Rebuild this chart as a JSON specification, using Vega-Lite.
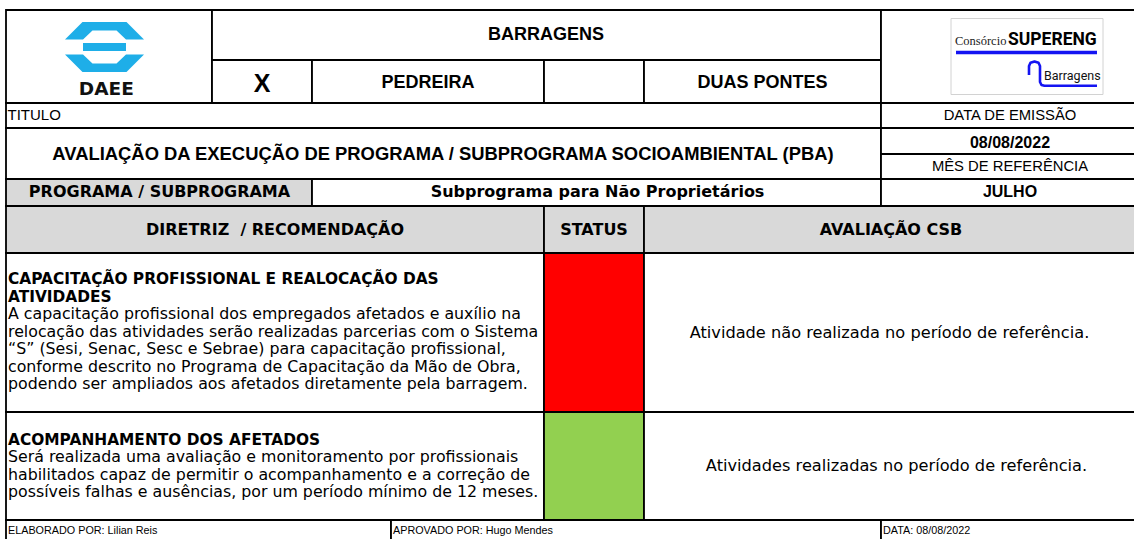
{
  "$schema": "https://vega.github.io/schema/vega-lite/v6.json",
  "width": 1134,
  "height": 539,
  "autosize": {"type": "none"},
  "padding": 0,
  "background": "#ffffff",
  "config": {"view": {"stroke": null}},
  "datasets": {
    "cells": [
      {"x": 6, "x2": 212, "y": 10, "y2": 103, "kind": "plain"},
      {"x": 212, "x2": 881, "y": 10, "y2": 60, "kind": "plain"},
      {"x": 212, "x2": 312, "y": 60, "y2": 103, "kind": "plain"},
      {"x": 312, "x2": 544, "y": 60, "y2": 103, "kind": "plain"},
      {"x": 544, "x2": 644, "y": 60, "y2": 103, "kind": "plain"},
      {"x": 644, "x2": 881, "y": 60, "y2": 103, "kind": "plain"},
      {"x": 881, "x2": 1140, "y": 10, "y2": 103, "kind": "plain"},
      {"x": 6, "x2": 881, "y": 103, "y2": 128, "kind": "plain"},
      {"x": 881, "x2": 1140, "y": 103, "y2": 128, "kind": "plain"},
      {"x": 6, "x2": 881, "y": 128, "y2": 179, "kind": "plain"},
      {"x": 881, "x2": 1140, "y": 128, "y2": 154, "kind": "plain"},
      {"x": 881, "x2": 1140, "y": 154, "y2": 179, "kind": "plain"},
      {"x": 6, "x2": 312, "y": 179, "y2": 206, "kind": "header"},
      {"x": 312, "x2": 881, "y": 179, "y2": 206, "kind": "plain"},
      {"x": 881, "x2": 1140, "y": 179, "y2": 206, "kind": "plain"},
      {"x": 6, "x2": 544, "y": 206, "y2": 253, "kind": "header"},
      {"x": 544, "x2": 644, "y": 206, "y2": 253, "kind": "header"},
      {"x": 644, "x2": 1140, "y": 206, "y2": 253, "kind": "header"},
      {"x": 6, "x2": 544, "y": 253, "y2": 412, "kind": "plain"},
      {"x": 544, "x2": 644, "y": 253, "y2": 412, "kind": "nao_realizada"},
      {"x": 644, "x2": 1140, "y": 253, "y2": 412, "kind": "plain"},
      {"x": 6, "x2": 544, "y": 412, "y2": 520, "kind": "plain"},
      {"x": 544, "x2": 644, "y": 412, "y2": 520, "kind": "realizada"},
      {"x": 644, "x2": 1140, "y": 412, "y2": 520, "kind": "plain"},
      {"x": 6, "x2": 391, "y": 520, "y2": 545, "kind": "plain"},
      {"x": 391, "x2": 881, "y": 520, "y2": 545, "kind": "plain"},
      {"x": 881, "x2": 1140, "y": 520, "y2": 545, "kind": "plain"}
    ],
    "texts": [
      {"role": "caption", "text": "TITULO", "x": 7.5, "y": 119.5},
      {"role": "captionC", "text": "DATA DE EMISSÃO", "x": 1010, "y": 120},
      {"role": "captionC", "text": "MÊS DE REFERÊNCIA", "x": 1010, "y": 170.5},
      {"role": "boldTop", "text": "BARRAGENS", "x": 546, "y": 40},
      {"role": "boldTop", "text": "PEDREIRA", "x": 428, "y": 88},
      {"role": "boldTop", "text": "DUAS PONTES", "x": 762.5, "y": 88},
      {"role": "title", "text": "AVALIAÇÃO DA EXECUÇÃO DE PROGRAMA / SUBPROGRAMA SOCIOAMBIENTAL (PBA)", "x": 443, "y": 159.5},
      {"role": "mark", "text": "X", "x": 262, "y": 92},
      {"role": "value", "text": "08/08/2022", "x": 1010, "y": 148},
      {"role": "value", "text": "JULHO", "x": 1010, "y": 197},
      {"role": "header", "text": "PROGRAMA / SUBPROGRAMA", "x": 159.5, "y": 197},
      {"role": "header", "text": "Subprograma para Não Proprietários", "x": 597.5, "y": 197},
      {"role": "header", "text": "DIRETRIZ\u00a0 / RECOMENDAÇÃO", "x": 275, "y": 235},
      {"role": "header", "text": "STATUS", "x": 594, "y": 235},
      {"role": "header", "text": "AVALIAÇÃO CSB", "x": 891, "y": 235},
      {"role": "itemTitle", "text": "CAPACITAÇÃO PROFISSIONAL E REALOCAÇÃO DAS", "x": 8, "y": 279},
      {"role": "itemTitle", "text": "ATIVIDADES", "x": 8, "y": 296.5},
      {"role": "body", "text": "A capacitação profissional dos empregados afetados e auxílio na", "x": 8, "y": 314},
      {"role": "body", "text": "relocação das atividades serão realizadas parcerias com o Sistema", "x": 8, "y": 331.5},
      {"role": "body", "text": "“S” (Sesi, Senac, Sesc e Sebrae) para capacitação profissional,", "x": 8, "y": 349},
      {"role": "body", "text": "conforme descrito no Programa de Capacitação da Mão de Obra,", "x": 8, "y": 366.5},
      {"role": "body", "text": "podendo ser ampliados aos afetados diretamente pela barragem.", "x": 8, "y": 384},
      {"role": "itemTitle", "text": "ACOMPANHAMENTO DOS AFETADOS", "x": 8, "y": 439.5},
      {"role": "body", "text": "Será realizada uma avaliação e monitoramento por profissionais", "x": 8, "y": 457},
      {"role": "body", "text": "habilitados capaz de permitir o acompanhamento e a correção de", "x": 8, "y": 474.5},
      {"role": "body", "text": "possíveis falhas e ausências, por um período mínimo de 12 meses.", "x": 8, "y": 492},
      {"role": "eval", "text": "Atividade não realizada no período de referência.", "x": 889.5, "y": 333},
      {"role": "eval", "text": "Atividades realizadas no período de referência.", "x": 896.5, "y": 466},
      {"role": "footer", "text": "ELABORADO POR: Lilian Reis", "x": 8, "y": 534},
      {"role": "footer", "text": "APROVADO POR: Hugo Mendes", "x": 393, "y": 534},
      {"role": "footer", "text": "DATA: 08/08/2022", "x": 883, "y": 534},
      {"role": "daee", "text": "DAEE", "x": 106.3, "y": 95},
      {"role": "consorcio", "text": "Consórcio", "x": 955, "y": 45},
      {"role": "supereng", "text": "SUPERENG", "x": 1008, "y": 45},
      {"role": "barragens", "text": "Barragens", "x": 1044, "y": 80}
    ],
    "curve": [
      {"x": 1029, "y": 75, "i": 0},
      {"x": 1029, "y": 66, "i": 1},
      {"x": 1030.5, "y": 62.8, "i": 2},
      {"x": 1034.5, "y": 61.5, "i": 3},
      {"x": 1038.5, "y": 62.8, "i": 4},
      {"x": 1040, "y": 66, "i": 5},
      {"x": 1040, "y": 82, "i": 6},
      {"x": 1041.5, "y": 85, "i": 7},
      {"x": 1044.5, "y": 85.8, "i": 8},
      {"x": 1097, "y": 85.8, "i": 9}
    ]
  },
  "layer": [
    {
      "data": {"name": "cells"},
      "mark": {"type": "rect", "stroke": "#000000", "strokeWidth": 1.8},
      "encoding": {
        "x": {"field": "x", "type": "quantitative", "scale": {"domain": [0, 1134], "nice": false, "zero": false}, "axis": null},
        "x2": {"field": "x2"},
        "y": {"field": "y", "type": "quantitative", "scale": {"domain": [0, 539], "nice": false, "zero": false, "reverse": true}, "axis": null},
        "y2": {"field": "y2"},
        "fill": {"field": "kind", "type": "nominal", "legend": null,
          "scale": {"domain": ["plain", "header", "nao_realizada", "realizada"], "range": ["#ffffff", "#d9d9d9", "#ff0000", "#92d050"]}}
      }
    },
    {
      "data": {"values": [{"x": 104.5, "y": 47, "logo": "DAEE"}]},
      "mark": {"type": "point", "filled": true, "fill": "#1eaee8", "opacity": 1, "strokeWidth": 0, "size": 6241,
        "shape": "M-0.557,-0.633L0.557,-0.633L1,-0.19L0.544,-0.19L0.304,-0.418L-0.304,-0.418L-0.544,-0.19L-1,-0.19Z M-0.544,-0.101L0.544,-0.101L0.544,0.101L-0.544,0.101Z M-1,0.19L-0.544,0.19L-0.304,0.418L0.304,0.418L0.544,0.19L1,0.19L0.557,0.633L-0.557,0.633Z"},
      "encoding": {
        "x": {"field": "x", "type": "quantitative"},
        "y": {"field": "y", "type": "quantitative"}
      }
    },
    {
      "data": {"values": [{"x": 951, "x2": 1103, "y": 18.5, "y2": 94.5}]},
      "mark": {"type": "rect", "fill": "#ffffff", "stroke": "#d2d2d2", "strokeWidth": 1},
      "encoding": {
        "x": {"field": "x", "type": "quantitative"},
        "x2": {"field": "x2"},
        "y": {"field": "y", "type": "quantitative"},
        "y2": {"field": "y2"}
      }
    },
    {
      "data": {"values": [{"x": 956, "x2": 1097, "y": 52.5}]},
      "mark": {"type": "rule", "color": "#1414f2", "strokeWidth": 3.3},
      "encoding": {
        "x": {"field": "x", "type": "quantitative"},
        "x2": {"field": "x2"},
        "y": {"field": "y", "type": "quantitative"}
      }
    },
    {
      "data": {"name": "curve"},
      "mark": {"type": "line", "color": "#1414f2", "strokeWidth": 2.6, "strokeJoin": "round", "strokeCap": "butt"},
      "encoding": {
        "x": {"field": "x", "type": "quantitative"},
        "y": {"field": "y", "type": "quantitative"},
        "order": {"field": "i", "type": "quantitative"}
      }
    },
    {
      "data": {"name": "texts"},
      "transform": [{"filter": "datum.role === 'caption'"}],
      "mark": {"type": "text", "font": "Liberation Sans", "fontSize": 15, "align": "left", "baseline": "alphabetic", "color": "#000"},
      "encoding": {"x": {"field": "x", "type": "quantitative"}, "y": {"field": "y", "type": "quantitative"}, "text": {"field": "text"}}
    },
    {
      "data": {"name": "texts"},
      "transform": [{"filter": "datum.role === 'captionC'"}],
      "mark": {"type": "text", "font": "Liberation Sans", "fontSize": 14.8, "align": "center", "baseline": "alphabetic", "color": "#000"},
      "encoding": {"x": {"field": "x", "type": "quantitative"}, "y": {"field": "y", "type": "quantitative"}, "text": {"field": "text"}}
    },
    {
      "data": {"name": "texts"},
      "transform": [{"filter": "datum.role === 'boldTop'"}],
      "mark": {"type": "text", "font": "Liberation Sans", "fontSize": 18, "fontWeight": "bold", "align": "center", "baseline": "alphabetic", "color": "#000"},
      "encoding": {"x": {"field": "x", "type": "quantitative"}, "y": {"field": "y", "type": "quantitative"}, "text": {"field": "text"}}
    },
    {
      "data": {"name": "texts"},
      "transform": [{"filter": "datum.role === 'title'"}],
      "mark": {"type": "text", "font": "Liberation Sans", "fontSize": 18.4, "fontWeight": "bold", "align": "center", "baseline": "alphabetic", "color": "#000"},
      "encoding": {"x": {"field": "x", "type": "quantitative"}, "y": {"field": "y", "type": "quantitative"}, "text": {"field": "text"}}
    },
    {
      "data": {"name": "texts"},
      "transform": [{"filter": "datum.role === 'mark'"}],
      "mark": {"type": "text", "font": "Liberation Sans", "fontSize": 25, "fontWeight": "bold", "align": "center", "baseline": "alphabetic", "color": "#000"},
      "encoding": {"x": {"field": "x", "type": "quantitative"}, "y": {"field": "y", "type": "quantitative"}, "text": {"field": "text"}}
    },
    {
      "data": {"name": "texts"},
      "transform": [{"filter": "datum.role === 'value'"}],
      "mark": {"type": "text", "font": "Liberation Sans", "fontSize": 16, "fontWeight": "bold", "align": "center", "baseline": "alphabetic", "color": "#000"},
      "encoding": {"x": {"field": "x", "type": "quantitative"}, "y": {"field": "y", "type": "quantitative"}, "text": {"field": "text"}}
    },
    {
      "data": {"name": "texts"},
      "transform": [{"filter": "datum.role === 'header'"}],
      "mark": {"type": "text", "font": "DejaVu Sans", "fontSize": 16, "fontWeight": "bold", "align": "center", "baseline": "alphabetic", "color": "#000"},
      "encoding": {"x": {"field": "x", "type": "quantitative"}, "y": {"field": "y", "type": "quantitative"}, "text": {"field": "text"}}
    },
    {
      "data": {"name": "texts"},
      "transform": [{"filter": "datum.role === 'itemTitle'"}],
      "mark": {"type": "text", "font": "DejaVu Sans", "fontSize": 15.4, "fontWeight": "bold", "align": "left", "baseline": "middle", "color": "#000"},
      "encoding": {"x": {"field": "x", "type": "quantitative"}, "y": {"field": "y", "type": "quantitative"}, "text": {"field": "text"}}
    },
    {
      "data": {"name": "texts"},
      "transform": [{"filter": "datum.role === 'body'"}],
      "mark": {"type": "text", "font": "DejaVu Sans", "fontSize": 15.8, "align": "left", "baseline": "middle", "color": "#000"},
      "encoding": {"x": {"field": "x", "type": "quantitative"}, "y": {"field": "y", "type": "quantitative"}, "text": {"field": "text"}}
    },
    {
      "data": {"name": "texts"},
      "transform": [{"filter": "datum.role === 'eval'"}],
      "mark": {"type": "text", "font": "DejaVu Sans", "fontSize": 16.2, "align": "center", "baseline": "middle", "color": "#000"},
      "encoding": {"x": {"field": "x", "type": "quantitative"}, "y": {"field": "y", "type": "quantitative"}, "text": {"field": "text"}}
    },
    {
      "data": {"name": "texts"},
      "transform": [{"filter": "datum.role === 'footer'"}],
      "mark": {"type": "text", "font": "Liberation Sans", "fontSize": 10.8, "align": "left", "baseline": "alphabetic", "color": "#000"},
      "encoding": {"x": {"field": "x", "type": "quantitative"}, "y": {"field": "y", "type": "quantitative"}, "text": {"field": "text"}}
    },
    {
      "data": {"name": "texts"},
      "transform": [{"filter": "datum.role === 'daee'"}],
      "mark": {"type": "text", "font": "DejaVu Sans", "fontSize": 18.5, "fontWeight": "bold", "align": "center", "baseline": "alphabetic", "color": "#111"},
      "encoding": {"x": {"field": "x", "type": "quantitative"}, "y": {"field": "y", "type": "quantitative"}, "text": {"field": "text"}}
    },
    {
      "data": {"name": "texts"},
      "transform": [{"filter": "datum.role === 'consorcio'"}],
      "mark": {"type": "text", "font": "Liberation Serif", "fontSize": 12.5, "align": "left", "baseline": "alphabetic", "color": "#222"},
      "encoding": {"x": {"field": "x", "type": "quantitative"}, "y": {"field": "y", "type": "quantitative"}, "text": {"field": "text"}}
    },
    {
      "data": {"name": "texts"},
      "transform": [{"filter": "datum.role === 'supereng'"}],
      "mark": {"type": "text", "font": "Roboto", "fontSize": 17.5, "fontWeight": "bold", "align": "left", "baseline": "alphabetic", "color": "#000"},
      "encoding": {"x": {"field": "x", "type": "quantitative"}, "y": {"field": "y", "type": "quantitative"}, "text": {"field": "text"}}
    },
    {
      "data": {"name": "texts"},
      "transform": [{"filter": "datum.role === 'barragens'"}],
      "mark": {"type": "text", "font": "Roboto", "fontSize": 12.5, "align": "left", "baseline": "alphabetic", "color": "#111"},
      "encoding": {"x": {"field": "x", "type": "quantitative"}, "y": {"field": "y", "type": "quantitative"}, "text": {"field": "text"}}
    }
  ]
}
